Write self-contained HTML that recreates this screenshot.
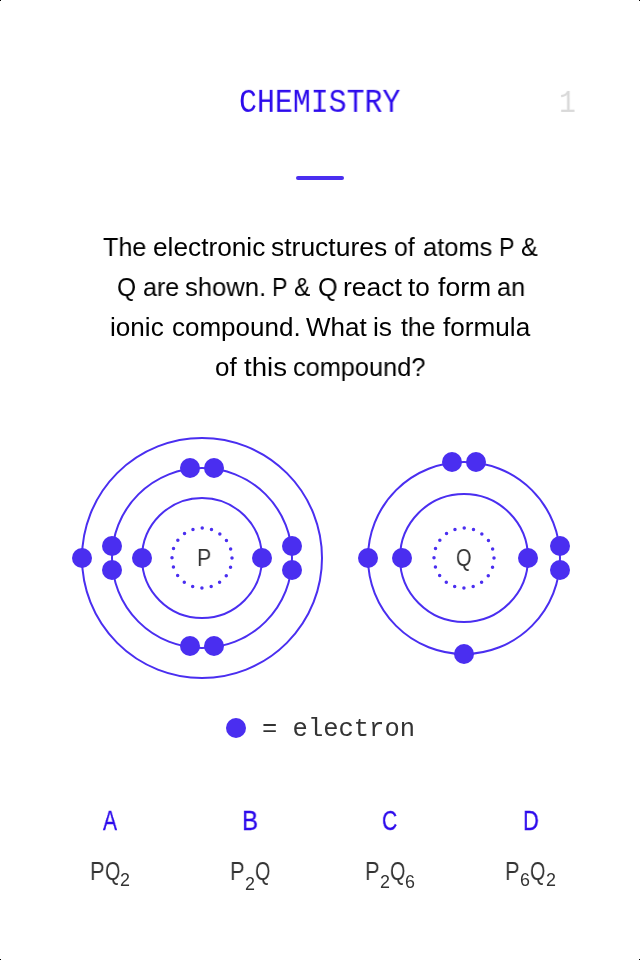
<!DOCTYPE html>
<html>
<head>
<meta charset="utf-8">
<style>
html,body{margin:0;padding:0;background:#fff;}
.cn{position:absolute;width:1px;height:1px;background:#000;}
body{width:640px;height:960px;position:relative;overflow:hidden;}
.t{will-change:transform;}
.t{position:absolute;white-space:nowrap;line-height:1;transform-origin:0 0;}
.mono{font-family:"Liberation Mono",monospace;}
.sans{font-family:"Liberation Sans",sans-serif;}
#hdr{left:238.6px;top:87.1px;font-size:30px;color:#2c0aec;transform:scale(0.996,1.078);}
#num{left:558.9px;top:88.2px;font-size:30px;color:#d9d9d9;transform:scale(0.93,1.05);}
#bar{position:absolute;left:296px;top:176px;width:48px;height:4px;border-radius:2px;background:#4a2ef0;}
.w{position:absolute;font-family:"Liberation Sans",sans-serif;font-size:26px;color:#000;line-height:40px;white-space:nowrap;transform-origin:0 0;will-change:transform;}
#legend{left:262.2px;top:716.5px;font-size:25.5px;color:#333;}
.let{font-family:"Liberation Sans",sans-serif;font-size:27px;color:#2c0aec;top:807.6px;-webkit-text-stroke:0.35px #2c0aec;}
.fP,.fQ{font-family:"Liberation Sans",sans-serif;font-size:26.4px;color:#333;top:858px;}
.fP{transform:scaleX(0.83);}
.fQ{transform:scaleX(0.75);}
.fd{font-family:"Liberation Sans",sans-serif;font-size:17.9px;color:#333;}
.nuc{font-family:"Liberation Sans",sans-serif;font-size:24.3px;color:#333;}
</style>
</head>
<body>
<div class="cn" style="left:0;top:0"></div><div class="cn" style="right:0;top:0"></div><div class="cn" style="left:0;bottom:0"></div><div class="cn" style="right:0;bottom:0"></div>
<div id="hdr" class="t mono">CHEMISTRY</div>
<div id="num" class="t mono">1</div>
<div id="bar"></div>

<div class="qw">
<span class="w" style="left:102.83px;top:227px;transform:scaleX(0.9674)">The</span>
<span class="w" style="left:153.49px;top:227px;transform:scaleX(1.0092)">electronic</span>
<span class="w" style="left:270.98px;top:227px;transform:scaleX(1.0179)">structures</span>
<span class="w" style="left:394.05px;top:227px;transform:scaleX(0.9524)">of</span>
<span class="w" style="left:422.77px;top:227px;transform:scaleX(0.9783)">atoms</span>
<span class="w" style="left:499.46px;top:227px;transform:scaleX(0.8929)">P</span>
<span class="w" style="left:521.03px;top:227px;transform:scaleX(0.9688)">&amp;</span>
<span class="w" style="left:117.06px;top:267px;transform:scaleX(0.9444)">Q</span>
<span class="w" style="left:142.79px;top:267px;transform:scaleX(0.9643)">are</span>
<span class="w" style="left:185.27px;top:267px;transform:scaleX(0.9842)">shown.</span>
<span class="w" style="left:271.96px;top:267px;transform:scaleX(0.8929)">P</span>
<span class="w" style="left:294.06px;top:267px;transform:scaleX(0.9375)">&amp;</span>
<span class="w" style="left:317.78px;top:267px;transform:scaleX(0.9722)">Q</span>
<span class="w" style="left:343.21px;top:267px;transform:scaleX(1.0182)">react</span>
<span class="w" style="left:408.10px;top:267px;transform:scaleX(1.0048)">to</span>
<span class="w" style="left:437.50px;top:267px;transform:scaleX(1.0220)">form</span>
<span class="w" style="left:497.03px;top:267px;transform:scaleX(0.9731)">an</span>
<span class="w" style="left:110.49px;top:307px;transform:scaleX(1.0049)">ionic</span>
<span class="w" style="left:171.50px;top:307px;transform:scaleX(1.0000)">compound.</span>
<span class="w" style="left:306.25px;top:307px;transform:scaleX(1.0000)">What</span>
<span class="w" style="left:372.97px;top:307px;transform:scaleX(1.0156)">is</span>
<span class="w" style="left:400.50px;top:307px;transform:scaleX(0.9500)">the</span>
<span class="w" style="left:442.50px;top:307px;transform:scaleX(1.0057)">formula</span>
<span class="w" style="left:214.91px;top:347px;transform:scaleX(0.9905)">of</span>
<span class="w" style="left:243.75px;top:347px;transform:scaleX(1.0628)">this</span>
<span class="w" style="left:292.53px;top:347px;transform:scaleX(0.9739)">compound?</span>

</div>

<svg style="position:absolute;left:0;top:0" width="640" height="960" viewBox="0 0 640 960">
  <g fill="none" stroke="#4a2ef0" stroke-width="2">
    <circle cx="202" cy="558" r="120"/>
    <circle cx="202" cy="558" r="90"/>
    <circle cx="202" cy="558" r="60"/>
    <circle cx="464" cy="558" r="96"/>
    <circle cx="464" cy="558" r="64"/>
  </g>
  <g fill="none" stroke="#4a2ef0" stroke-width="3.5" stroke-linecap="round" stroke-dasharray="0 9.4248">
    <circle cx="202" cy="558" r="30"/>
    <circle cx="464" cy="558" r="30"/>
  </g>
  <g fill="#4a2ef0">
    <circle cx="82" cy="558" r="10"/>
    <circle cx="112" cy="546" r="10"/>
    <circle cx="112" cy="570" r="10"/>
    <circle cx="142" cy="558" r="10"/>
    <circle cx="262" cy="558" r="10"/>
    <circle cx="292" cy="546" r="10"/>
    <circle cx="292" cy="570" r="10"/>
    <circle cx="190" cy="468" r="10"/>
    <circle cx="214" cy="468" r="10"/>
    <circle cx="190" cy="646" r="10"/>
    <circle cx="214" cy="646" r="10"/>

    <circle cx="368" cy="558" r="10"/>
    <circle cx="402" cy="558" r="10"/>
    <circle cx="528" cy="558" r="10"/>
    <circle cx="560" cy="546" r="10"/>
    <circle cx="560" cy="570" r="10"/>
    <circle cx="452" cy="462" r="10"/>
    <circle cx="476" cy="462" r="10"/>
    <circle cx="464" cy="654" r="10"/>

    <circle cx="236" cy="728" r="10"/>
  </g>
</svg>
<div class="t nuc" style="left:196.6px;top:545.8px;transform:scaleX(0.88)">P</div>
<div class="t nuc" style="left:456px;top:545.6px;transform:scaleX(0.82)">Q</div>

<div id="legend" class="t mono">= electron</div>

<div class="t let" style="left:103px;transform:scaleX(0.777)">A</div>
<div class="t let" style="left:242.1px;transform:scaleX(0.89)">B</div>
<div class="t let" style="left:382.1px;transform:scaleX(0.78)">C</div>
<div class="t let" style="left:523px;transform:scaleX(0.81)">D</div>

<!-- PQ2 -->
<div class="t fP" style="left:90.2px">P</div>
<div class="t fQ" style="left:104.7px">Q</div>
<div class="t fd" style="left:120.1px;top:872.2px">2</div>
<!-- P2Q -->
<div class="t fP" style="left:230.2px">P</div>
<div class="t fd" style="left:245px;top:875.6px">2</div>
<div class="t fQ" style="left:254.9px">Q</div>
<!-- P2Q6 -->
<div class="t fP" style="left:364.6px">P</div>
<div class="t fd" style="left:380.2px;top:873.5px">2</div>
<div class="t fQ" style="left:390.4px">Q</div>
<div class="t fd" style="left:405px;top:873.6px">6</div>
<!-- P6Q2 -->
<div class="t fP" style="left:504.6px">P</div>
<div class="t fd" style="left:519.5px;top:871.6px">6</div>
<div class="t fQ" style="left:530px">Q</div>
<div class="t fd" style="left:545.8px;top:871.6px">2</div>
</body>
</html>
